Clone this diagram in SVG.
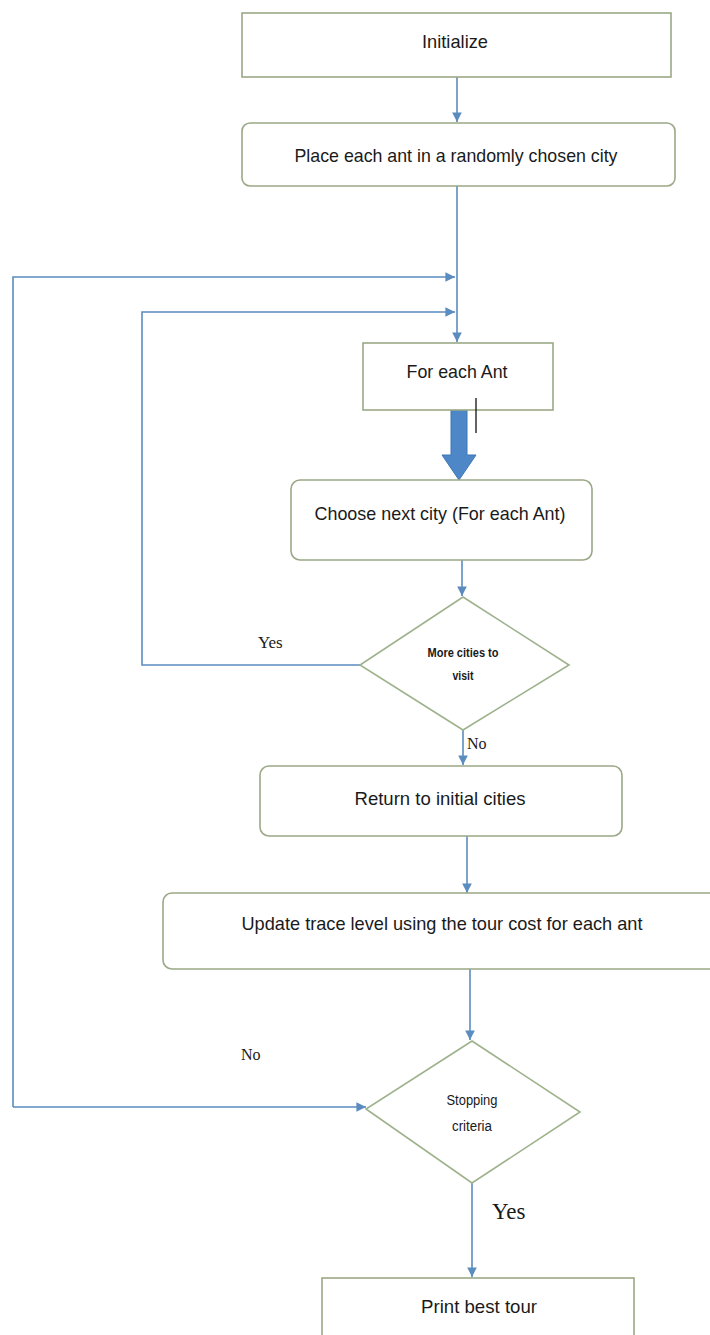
<svg xmlns="http://www.w3.org/2000/svg" width="710" height="1335" viewBox="0 0 710 1335">
<defs>
<style>
.box{fill:#ffffff;stroke:#9aa886;stroke-width:1.6}
.dia{fill:#ffffff;stroke:#9db28c;stroke-width:1.6}
.ln{fill:none;stroke:#5b8cc0;stroke-width:1.6}
.t{font-family:"Liberation Sans","DejaVu Sans",sans-serif;font-size:19px;fill:#1a1a1a;text-anchor:middle}
.s{font-family:"Liberation Sans","DejaVu Sans",sans-serif;font-size:12px;font-weight:bold;fill:#1a1a1a;text-anchor:middle}
.d{font-family:"Liberation Sans","DejaVu Sans",sans-serif;font-size:14px;fill:#1a1a1a;text-anchor:middle}
.lab{font-family:"Liberation Serif","DejaVu Serif",serif;fill:#1a1a1a}
</style>
<marker id="ah" viewBox="0 0 10 10" refX="10" refY="5" markerWidth="6" markerHeight="6" orient="auto" markerUnits="strokeWidth">
<path d="M0,0 L10,5 L0,10 z" fill="#5b8cc0"/>
</marker>
</defs>
<rect width="710" height="1335" fill="#ffffff"/>

<g id="connectors">
<line class="ln" x1="457" y1="77" x2="457" y2="122" marker-end="url(#ah)"/>
<line class="ln" x1="457" y1="186" x2="457" y2="342" marker-end="url(#ah)"/>
<polyline class="ln" points="13,1107 13,277 455,277" marker-end="url(#ah)"/>
<polyline class="ln" points="360,665 142,665 142,312 455,312" marker-end="url(#ah)"/>
<path d="M451,410 L467,410 L467,455 L476,455 L459,480 L442,455 L451,455 z" fill="#4d87c7" stroke="#3f77b5" stroke-width="1"/>
<line class="ln" x1="462" y1="560" x2="462" y2="596" marker-end="url(#ah)"/>
<line class="ln" x1="463" y1="730" x2="463" y2="765" marker-end="url(#ah)"/>
<line class="ln" x1="467" y1="836" x2="467" y2="893" marker-end="url(#ah)"/>
<line class="ln" x1="470" y1="969" x2="470" y2="1040" marker-end="url(#ah)"/>
<line class="ln" x1="13" y1="1107" x2="366" y2="1107" marker-end="url(#ah)"/>
<line class="ln" x1="472" y1="1183" x2="472" y2="1277" marker-end="url(#ah)"/>
<text class="lab" x="258" y="648" font-size="17">Yes</text>
<text class="lab" x="467" y="749" font-size="16">No</text>
<text class="lab" x="241" y="1060" font-size="16">No</text>
<text class="lab" x="492" y="1219" font-size="23">Yes</text>
</g>

<g id="initialize">
<rect class="box" x="242" y="13" width="429" height="64"/>
<text class="t" x="455" y="48" textLength="66" lengthAdjust="spacingAndGlyphs">Initialize</text>
</g>

<g id="place">
<rect class="box" x="242" y="123" width="433" height="63" rx="8"/>
<text class="t" x="456" y="162" textLength="323" lengthAdjust="spacingAndGlyphs">Place each ant in a randomly chosen city</text>
</g>

<g id="foreach">
<rect class="box" x="363" y="343" width="190" height="67"/>
<text class="t" x="457" y="378" textLength="101" lengthAdjust="spacingAndGlyphs">For each Ant</text>
</g>

<g id="choose">
<rect class="box" x="291" y="480" width="301" height="80" rx="9"/>
<text class="t" x="440" y="520" textLength="251" lengthAdjust="spacingAndGlyphs">Choose next city (For each Ant)</text>
</g>

<g id="morecities">
<polygon class="dia" points="463,597 569,665 463,730 360,665"/>
<text class="s" x="463" y="657" textLength="71" lengthAdjust="spacingAndGlyphs">More cities to</text>
<text class="s" x="463" y="680" textLength="21" lengthAdjust="spacingAndGlyphs">visit</text>
</g>

<g id="return">
<rect class="box" x="260" y="766" width="362" height="70" rx="9"/>
<text class="t" x="440" y="805" textLength="171" lengthAdjust="spacingAndGlyphs">Return to initial cities</text>
</g>

<g id="update">
<rect class="box" x="163" y="893" width="560" height="76" rx="9"/>
<text class="t" x="442" y="930" textLength="401" lengthAdjust="spacingAndGlyphs">Update trace level using the tour cost for each ant</text>
</g>

<g id="stopping">
<polygon class="dia" points="472,1041 580,1112 472,1183 366,1109"/>
<text class="d" x="472" y="1105" textLength="51" lengthAdjust="spacingAndGlyphs">Stopping</text>
<text class="d" x="472" y="1131" textLength="40" lengthAdjust="spacingAndGlyphs">criteria</text>
</g>

<g id="print">
<rect class="box" x="322" y="1278" width="312" height="70"/>
<text class="t" x="479" y="1313" textLength="116" lengthAdjust="spacingAndGlyphs">Print best tour</text>
</g>

<line x1="476" y1="398" x2="476" y2="433" stroke="#111" stroke-width="1.3"/>
</svg>
